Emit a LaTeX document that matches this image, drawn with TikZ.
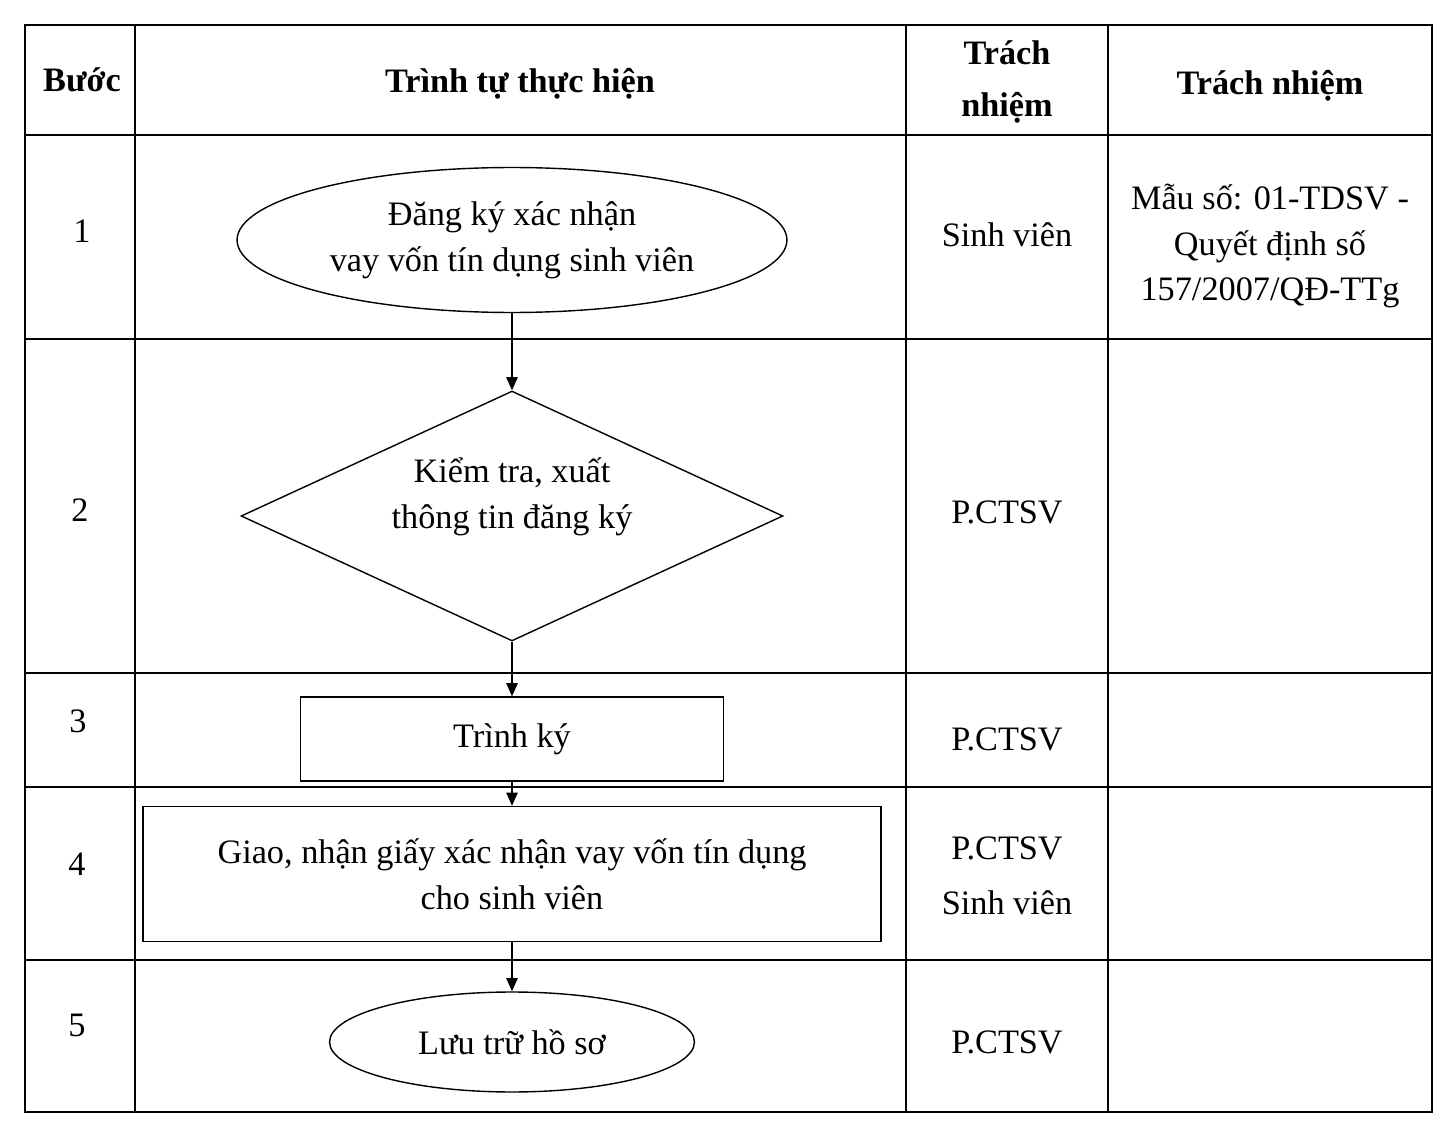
\documentclass[tikz,border=0pt]{standalone}
\usepackage{fontspec}
\setmainfont{Liberation Serif}
\usetikzlibrary{arrows.meta,shapes.geometric}

\tikzset{
	frame/.style={line width=0.8pt},
	txt/.style={font=\fontsize{19.5}{26}\selectfont, align=center},
	hdr/.style={txt, font=\fontsize{19.5}{30}\selectfont\bfseries},
	oval/.style={draw, ellipse, txt, line width=0.8pt, inner sep=0pt},
	rhomb/.style={draw, diamond, txt, line width=0.8pt, inner sep=0pt, aspect=2.17},
	box/.style={draw, rectangle, txt, line width=0.8pt},
	flow/.style={line width=0.8pt, -{Triangle[length=7.5pt, width=6.5pt]}}
}

\begin{document}
\begin{tikzpicture}[x=0.02cm, y=-0.02cm]
		%%%%% START %%%%%
		\useasboundingbox (0, 0) rectangle (1445, 1125);
		
		% khung bang
		\draw[frame] (25, 25) rectangle (1432, 1112);
		\foreach \yy in {135, 339, 673, 787, 960}
			\draw[frame] (25, \yy) -- (1432, \yy);
		\foreach \xx in {135, 906, 1108}
			\draw[frame] (\xx, 25) -- (\xx, 1112);
		
		% tieu de
		\node[hdr] (buoc) at (82, 80) {Bước};
		\node[hdr] (trinhtu) at (520, 84) {Trình tự thực hiện};
		\node[hdr] (trachnhiem) at (1007, 82) {Trách\\nhiệm};
		\node[hdr] (bieumau) at (1270, 86) {Trách nhiệm};
		
		% so buoc
		\node[txt] (n1) at (82, 231) {1};
		\node[txt] (n2) at (80, 510) {2};
		\node[txt] (n3) at (78, 721) {3};
		\node[txt] (n4) at (77, 864) {4};
		\node[txt] (n5) at (77, 1025) {5};
		
		% luu do
		\node[oval, minimum width=11cm, minimum height=2.9cm] (dangky) at (512, 240) {Đăng ký xác nhận\\vay vốn tín dụng sinh viên};
		\node[rhomb, minimum width=10.84cm, minimum height=5cm] (kiemtra) at (512, 516) {Kiểm tra, xuất\\thông tin đăng ký\\[0pt]};
		\node[box, minimum width=8.46cm, minimum height=1.68cm] (trinhky) at (512, 739) {Trình ký};
		\node[box, minimum width=14.76cm, minimum height=2.7cm] (giao) at (512, 874) {Giao, nhận giấy xác nhận vay vốn tín dụng\\cho sinh viên};
		\node[oval, minimum width=7.3cm, minimum height=2cm] (luutru) at (512, 1042) {Lưu trữ hồ sơ};
		
		\draw[flow] (dangky) -- (kiemtra);
		\draw[flow] (kiemtra) -- (trinhky);
		\draw[flow] (trinhky) -- (giao);
		\draw[flow] (giao) -- (luutru);
		
		% trach nhiem
		\node[txt] (sv1) at (1007, 235) {Sinh viên};
		\node[txt] (ct2) at (1007, 512) {P.CTSV};
		\node[txt] (ct3) at (1007, 739) {P.CTSV};
		\node[txt] (ct4) at (1007, 876) {P.CTSV\\[5pt]Sinh viên};
		\node[txt] (ct5) at (1007, 1042) {P.CTSV};
		
		\node[txt] (mau) at (1270, 246) {Mẫu số: 01-TDSV -\\Quyết định số\\157/2007/QĐ-TTg};
		
		%%%%% END %%%%%
\end{tikzpicture}
\end{document}
